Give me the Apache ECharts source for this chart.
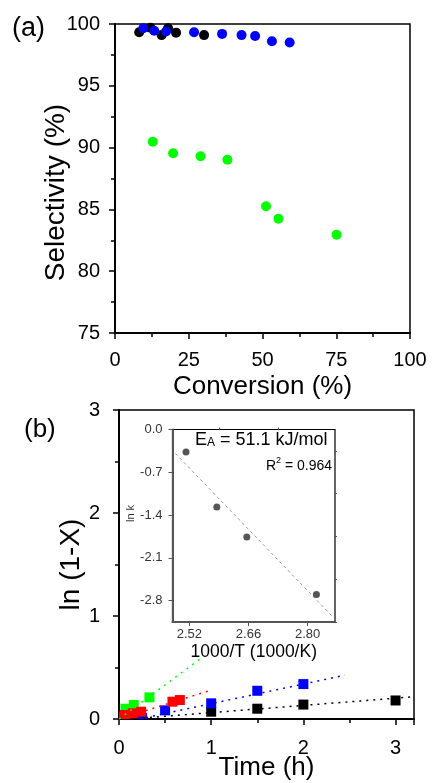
<!DOCTYPE html>
<html><head><meta charset="utf-8">
<script src="https://cdn.jsdelivr.net/npm/echarts@6/dist/echarts.min.js"></script>
<style>html,body{margin:0;padding:0;background:#fff}#c{width:432px;height:783px}</style>
</head><body><div id="c"></div>
<script>
// ---------- Panel (a): Conversion (%) vs Selectivity (%) ----------
const selBlackX = [8.2, 12.0, 15.8, 18.0, 20.7, 30.2];
const selBlackY = [99.33, 99.7, 99.1, 99.65, 99.3, 99.1];
const selBlueX = [9.6, 13.3, 17.3, 26.8, 36.3, 42.9, 47.5, 53.2, 59.2];
const selBlueY = [99.65, 99.46, 99.4, 99.33, 99.2, 99.1, 99.03, 98.6, 98.5];
const selGreenX = [12.8, 19.7, 29.0, 38.1, 51.2, 55.4, 75.1];
const selGreenY = [90.48, 89.54, 89.3, 89.02, 85.25, 84.25, 82.95];

// ---------- Panel (b): Time (h) vs ln(1-X) ----------
const kinBlackT = [0.25, 1.0, 1.5, 2.0, 3.0];
const kinBlackY = [0.01, 0.071, 0.10, 0.14, 0.18];
const kinBlueT = [0.25, 0.5, 1.0, 1.5, 2.0];
const kinBlueY = [0.01, 0.084, 0.152, 0.274, 0.339];
const kinGreenT = [0.07, 0.16, 0.33];
const kinGreenY = [0.10, 0.136, 0.21];
const kinRedT = [0.0, 0.06, 0.15, 0.24, 0.58, 0.66];
const kinRedY = [0.016, 0.039, 0.055, 0.071, 0.168, 0.184];
// linear fits (end points)
const fitBlackT = [0.26, 3.2];  const fitBlackY = [0.01, 0.216];
const fitBlueT = [0.22, 2.45];  const fitBlueY = [0.0, 0.425];
const fitRedT = [0.0, 0.98];    const fitRedY = [0.0, 0.275];
const fitGreenT = [0.0, 0.89];  const fitGreenY = [0.0, 0.59];

// ---------- Inset: Arrhenius plot ----------
const arrInvT = [2.512, 2.585, 2.656, 2.821];
const arrLnK = [-0.367, -1.27, -1.76, -2.70];
const arrFitX = [2.487, 2.86];  const arrFitY = [-0.393, -3.067];

// tick labels
const selXTicks = [0, 25, 50, 75, 100];
const kinXTicks = [0, 1, 2, 3];
const insXTicks = [2.52, 2.66, 2.80];
const insXMinor = [2.59, 2.73];
const insYTicks = [0, -0.7, -1.4, -2.1, -2.8];
const insYMinor = [-0.35, -1.05, -1.75, -2.45, -3.15];

const zip = (a, b) => a.map((v, i) => [v, b[i]]);
const FONT = 'Liberation Sans, Arial, sans-serif';

function mainAxis(extra, labelExtra, nameStyle) {
  return Object.assign({
    type: 'value',
    axisLine: { show: true, onZero: false, lineStyle: { color: '#000', width: 2 } },
    axisTick: { show: true, inside: false, length: 6, lineStyle: { color: '#000', width: 1.5 } },
    minorTick: { show: true, splitNumber: 2, length: 4, lineStyle: { color: '#000', width: 1.5 } },
    splitLine: { show: false },
    axisLabel: Object.assign({ color: '#000', fontSize: 20, fontFamily: FONT }, labelExtra),
    nameLocation: 'middle',
    nameMoveOverlap: false,
    nameTextStyle: Object.assign({ color: '#000', fontFamily: FONT }, nameStyle)
  }, extra);
}

function squares(xs, ys, color) {
  return {
    type: 'custom', xAxisIndex: 1, yAxisIndex: 1, clip: true, data: zip(xs, ys),
    renderItem: (params, api) => {
      const p = api.coord([api.value(0), api.value(1)]);
      const cs = params.coordSys;
      const r = echarts.graphic.clipRectByRect(
        { x: p[0] - 5, y: p[1] - 5, width: 10, height: 10 },
        { x: cs.x, y: cs.y, width: cs.width, height: cs.height });
      if (!r) return null;
      return { type: 'rect', shape: r, style: { fill: color } };
    }
  };
}

const chart = echarts.init(document.getElementById('c'), null, { renderer: 'canvas' });
const dotted = (c) => ({ color: c, width: 1.5, type: [2, 5] });

chart.setOption({
  animation: false,
  backgroundColor: '#fff',
  grid: [
    { left: 115, top: 24, width: 295, height: 309, show: true, borderColor: '#000', borderWidth: 1.5 },
    { left: 119, top: 410, width: 295, height: 309, show: true, borderColor: '#000', borderWidth: 1.5 },
    { left: 172.5, top: 429.5, width: 162.5, height: 192.5, show: true, borderColor: '#000', borderWidth: 1.2, backgroundColor: '#fff', z: 5 }
  ],
  xAxis: [
    mainAxis({ gridIndex: 0, min: 0, max: 100, interval: 25, name: 'Conversion (%)', nameGap: 41 },
      { margin: 17, customValues: selXTicks }, { fontSize: 26 }),
    mainAxis({ gridIndex: 1, min: 0, max: 3.2, interval: 1, name: 'Time (h)', nameGap: 36 },
      { margin: 19, customValues: kinXTicks }, { fontSize: 26 }),
    { type: 'value', gridIndex: 2, min: 2.48, max: 2.865, z: 6,
      axisLine: { show: true, onZero: false, lineStyle: { color: '#555', width: 2 } },
      axisTick: { show: true, length: 4, customValues: insXTicks, lineStyle: { color: '#555', width: 1 } },
      splitLine: { show: false },
      axisLabel: { color: '#333', fontSize: 13, fontFamily: FONT, margin: 6, customValues: insXTicks,
        formatter: v => v.toFixed(2) },
      name: '1000/T (1000/K)', nameLocation: 'middle', nameGap: 21, nameMoveOverlap: false,
      nameTextStyle: { color: '#000', fontSize: 17.5, fontFamily: FONT } },
    { type: 'value', gridIndex: 2, min: 2.48, max: 2.865, z: 6,
      axisLine: { show: false }, splitLine: { show: false }, axisLabel: { show: false },
      axisTick: { show: true, length: 2, customValues: insXMinor, lineStyle: { color: '#555', width: 1 } } }
  ],
  yAxis: [
    mainAxis({ gridIndex: 0, min: 75, max: 100, interval: 5, name: 'Selectivity (%)', nameGap: 45 },
      { margin: 15 }, { fontSize: 28, padding: [0, 28, 0, 0] }),
    mainAxis({ gridIndex: 1, min: 0, max: 3, interval: 1, name: 'ln (1-X)', nameGap: 34 },
      { margin: 19 }, { fontSize: 28 }),
    { type: 'value', gridIndex: 2, min: -3.15, max: 0, z: 6,
      axisLine: { show: true, onZero: false, lineStyle: { color: '#555', width: 2 } },
      axisTick: { show: true, length: 4, customValues: insYTicks, lineStyle: { color: '#555', width: 1 } },
      splitLine: { show: false },
      axisLabel: { color: '#333', fontSize: 13, fontFamily: FONT, margin: 10, customValues: insYTicks,
        formatter: v => v.toFixed(1) } },
    { type: 'value', gridIndex: 2, min: -3.15, max: 0, z: 6,
      axisLine: { show: false }, splitLine: { show: false }, axisLabel: { show: false },
      axisTick: { show: true, length: 2, customValues: insYMinor, lineStyle: { color: '#555', width: 1 } } }
  ],
  series: [
    { type: 'scatter', xAxisIndex: 0, yAxisIndex: 0, symbol: 'circle', symbolSize: 10,
      itemStyle: { color: '#000', opacity: 1 }, data: zip(selBlackX, selBlackY) },
    { type: 'scatter', xAxisIndex: 0, yAxisIndex: 0, symbol: 'circle', symbolSize: 10,
      itemStyle: { color: '#0000ff', opacity: 1 }, data: zip(selBlueX, selBlueY) },
    { type: 'scatter', xAxisIndex: 0, yAxisIndex: 0, symbol: 'circle', symbolSize: 10,
      itemStyle: { color: '#00ff00', opacity: 1 }, data: zip(selGreenX, selGreenY) },

    { type: 'line', xAxisIndex: 1, yAxisIndex: 1, showSymbol: false, lineStyle: dotted('#000'), data: zip(fitBlackT, fitBlackY) },
    { type: 'line', xAxisIndex: 1, yAxisIndex: 1, showSymbol: false, lineStyle: dotted('#0000ff'), data: zip(fitBlueT, fitBlueY) },
    { type: 'line', xAxisIndex: 1, yAxisIndex: 1, showSymbol: false, lineStyle: dotted('#ff0000'), data: zip(fitRedT, fitRedY) },
    { type: 'line', xAxisIndex: 1, yAxisIndex: 1, showSymbol: false, lineStyle: dotted('#00ff00'), data: zip(fitGreenT, fitGreenY) },
    squares(kinBlackT, kinBlackY, '#000'),
    squares(kinBlueT, kinBlueY, '#0000ff'),
    squares(kinGreenT, kinGreenY, '#00ff00'),
    squares(kinRedT, kinRedY, '#ff0000'),

    { type: 'line', xAxisIndex: 2, yAxisIndex: 2, showSymbol: false, z: 7,
      lineStyle: { color: '#999', width: 1, type: [3, 3] }, data: zip(arrFitX, arrFitY) },
    { type: 'scatter', xAxisIndex: 2, yAxisIndex: 2, symbol: 'circle', symbolSize: 7, z: 8,
      itemStyle: { color: '#555', opacity: 1 }, data: zip(arrInvT, arrLnK) }
  ],
  graphic: [
    { type: 'text', left: 12, top: 15, z: 10, style: { text: '(a)', fontSize: 27, fontFamily: FONT, fill: '#000' } },
    { type: 'text', left: 24, top: 417, z: 10, style: { text: '(b)', fontSize: 26, fontFamily: FONT, fill: '#000' } },
    { type: 'text', left: 195, top: 431, z: 10, style: {
        text: '{a|E}{s|A}{a| = 51.1 kJ/mol}', fontFamily: FONT, fill: '#000',
        rich: { a: { fontSize: 18, lineHeight: 21, verticalAlign: 'bottom', fontFamily: FONT },
                s: { fontSize: 12, lineHeight: 6, verticalAlign: 'bottom', fontFamily: FONT } } } },
    { type: 'text', right: 100, top: 456, z: 10, style: {
        text: '{a|R}{p|2}{a| = 0.964}', fontFamily: FONT, fill: '#000',
        rich: { a: { fontSize: 14, lineHeight: 17, verticalAlign: 'bottom', fontFamily: FONT },
                p: { fontSize: 9, lineHeight: 6, verticalAlign: 'top', fontFamily: FONT } } } },
    { type: 'text', x: 125, y: 522, rotation: Math.PI / 2, z: 10, style: {
        text: 'ln k', fontSize: 11, fontFamily: FONT, fill: '#333' } }
  ]
});
</script>
</body></html>
